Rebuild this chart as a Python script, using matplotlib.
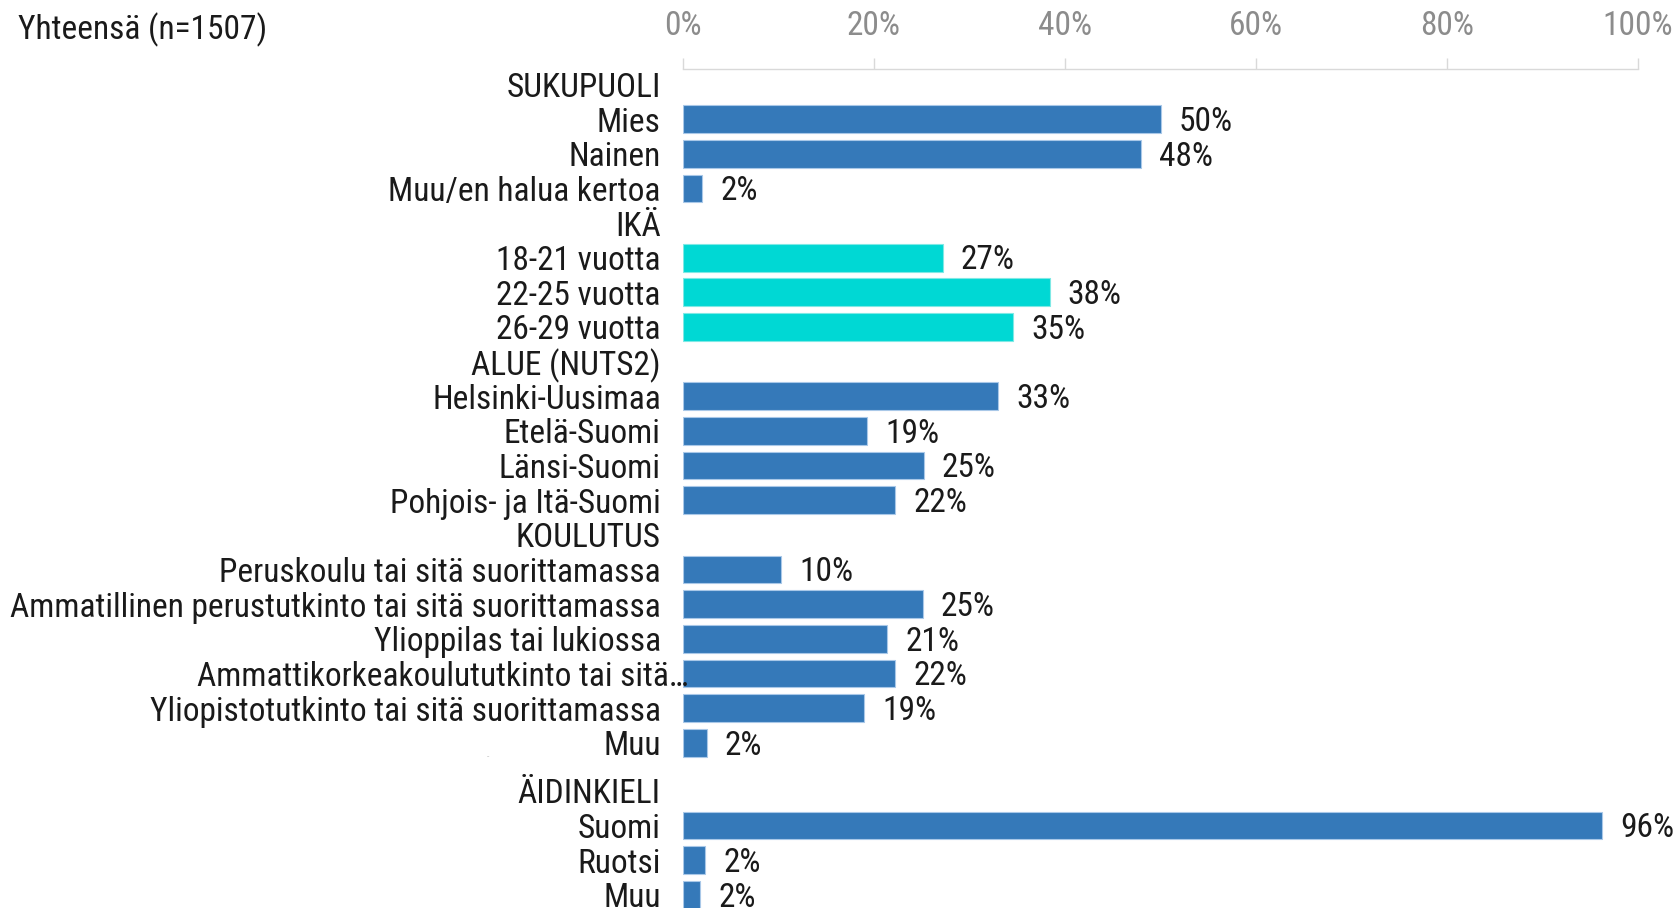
import matplotlib
matplotlib.use("Agg")
import matplotlib.pyplot as plt
import matplotlib.transforms as mtransforms

plt.rcParams['font.family'] = ['Roboto Condensed', 'DejaVu Sans']

# ---- data ----
labels = [
    "SUKUPUOLI", "Mies", "Nainen", "Muu/en halua kertoa",
    "IKÄ", "18-21 vuotta", "22-25 vuotta", "26-29 vuotta",
    "ALUE (NUTS2)", "Helsinki-Uusimaa", "Etelä-Suomi", "Länsi-Suomi", "Pohjois- ja Itä-Suomi",
    "KOULUTUS", "Peruskoulu tai sitä suorittamassa",
    "Ammatillinen perustutkinto tai sitä suorittamassa",
    "Ylioppilas tai lukiossa", "Ammattikorkeakoulututkinto tai sitä…",
    "Yliopistotutkinto tai sitä suorittamassa", "Muu",
    "ÄIDINKIELI", "Suomi", "Ruotsi", "Muu",
]
values = [
    None, 50.0, 48.0, 2.0,
    None, 27.2, 38.4, 34.6,
    None, 33.0, 19.3, 25.2, 22.2,
    None, 10.3, 25.1, 21.4, 22.2, 19.0, 2.5,
    None, 96.2, 2.3, 1.8,
]
groups = [
    None, "SUKUPUOLI", "SUKUPUOLI", "SUKUPUOLI",
    None, "IKÄ", "IKÄ", "IKÄ",
    None, "ALUE", "ALUE", "ALUE", "ALUE",
    None, "KOULUTUS", "KOULUTUS", "KOULUTUS", "KOULUTUS", "KOULUTUS", "KOULUTUS",
    None, "ÄIDINKIELI", "ÄIDINKIELI", "ÄIDINKIELI",
]
title = "Yhteensä (n=1507)"
xticks = [0, 20, 40, 60, 80, 100]
xticklabels = ["0%", "20%", "40%", "60%", "80%", "100%"]

# ---- styling ----
BLUE = "#3579b9"
CYAN = "#00d8d4"
colors = {"IKÄ": CYAN}
FS = 24

# positions: one row each, with a small extra gap before ÄIDINKIELI
gap_after = 19
extra_gap = 0.39
ypos = [i if i <= gap_after else i + extra_gap for i in range(len(labels))]

fig = plt.figure(figsize=(16.78, 9.08), dpi=100)
ax = fig.add_axes([683 / 1678, 0.0, (1638 - 683) / 1678, 1 - 68.5 / 908])

for y, v, g in zip(ypos, values, groups):
    if v is None:
        continue
    ax.barh(y, v, height=0.80, color=colors.get(g, BLUE),
            edgecolor="#a9c8e8" if g != "IKÄ" else "#7fe9e5", linewidth=0.8)
    ax.annotate(f"{v:.0f}%", xy=(v, y), xytext=(13, -2), textcoords="offset points",
                ha="left", va="center", fontsize=FS, color="#1a1a1a")

ax.set_xlim(0, 100)
ax.set_ylim(23.77, -0.46)

ax.xaxis.tick_top()
ax.set_xticks(xticks)
ax.set_xticklabels(xticklabels, fontsize=FS, color="#8c8c8c")
ax.tick_params(axis="x", direction="out", length=8, width=1, color="#d9d9d9", pad=11)

ax.set_yticks(ypos)
ax.set_yticklabels(labels, fontsize=FS, color="#1a1a1a")
ax.tick_params(axis="y", length=0, pad=16)

# the truncated label overflows slightly to the right in the original
for t in ax.get_yticklabels():
    if t.get_text().endswith("…"):
        t.set_transform(t.get_transform() + mtransforms.ScaledTranslation(28 / 100, 0, fig.dpi_scale_trans))

for s in ["left", "right", "bottom"]:
    ax.spines[s].set_visible(False)
ax.spines["top"].set_color("#d9d9d9")
ax.spines["top"].set_linewidth(1)

# tiny leftover marks of an empty row
ax.text(-195 / 955 * 100, gap_after + 0.37, "..", fontsize=5, color="#999999", ha="center", va="center",
        clip_on=False)

fig.text(18 / 1678, 1 - 30 / 908, title, ha="left", va="center", fontsize=FS, color="#1a1a1a")

fig.savefig("out.png", dpi=100)
